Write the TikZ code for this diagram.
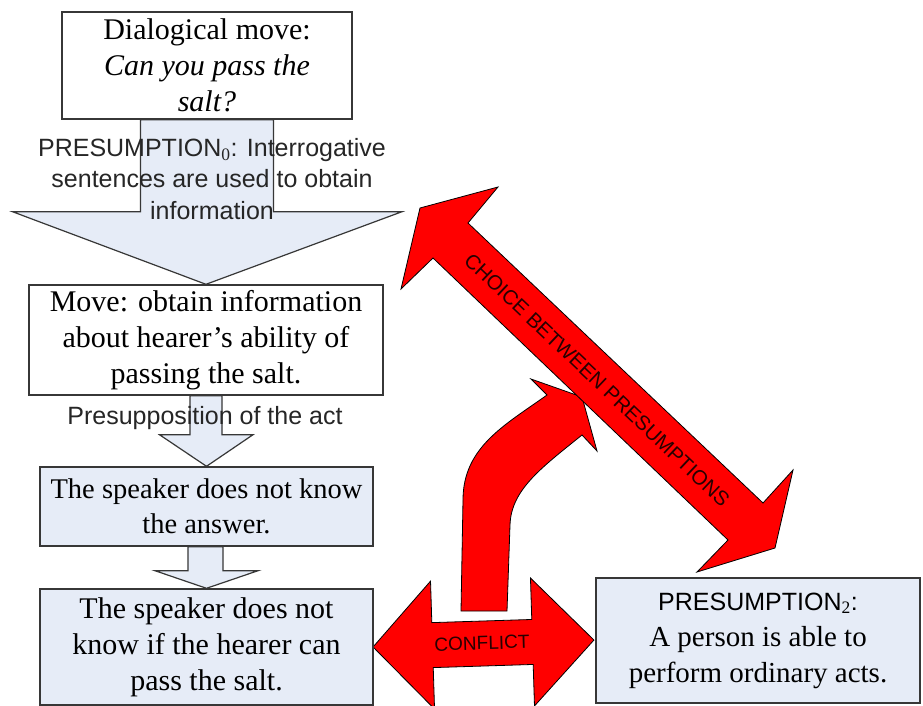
\documentclass[tikz,border=0pt]{standalone}
\usepackage{fontspec}
\setmainfont{Liberation Serif}
\setsansfont{Liberation Sans}
\usetikzlibrary{calc}
\definecolor{boxblue}{RGB}{230,236,247}
\definecolor{edgegray}{RGB}{55,55,55}
\definecolor{labelred}{RGB}{40,0,0}
\pgfdeclarelayer{background}
\pgfsetlayers{background,main}
\begin{document}
\begin{tikzpicture}[x=1pt,y=-1pt,
  box/.style={draw=edgegray, line width=1.4pt, align=center, inner sep=0pt,
    font=\fontsize{30}{36}\selectfont},
  bluebox/.style={box, fill=boxblue},
  whitebox/.style={box, fill=white},
  lightarrow/.style={draw=edgegray, fill=boxblue, line width=1.2pt, line join=miter},
  redarrow/.style={draw=black, fill=red, line width=0.8pt, line join=miter},
  sanslabel/.style={align=center, inner sep=0pt, font=\sffamily\fontsize{25}{31.5}\selectfont, text=black!85}
]
\clip (0,0) rectangle (923,706);

% boxes
\node[whitebox, minimum width=290pt, minimum height=107pt] (d1) at (207,65.5)
  {Dialogical move:\\\textit{Can you pass the}\\\textit{salt?}};
\node[whitebox, minimum width=354pt, minimum height=110pt] (m2) at (206,340)
  {Move: obtain information\\about hearer’s ability of\\passing the salt.};
\node[bluebox, minimum width=333pt, minimum height=79pt, font=\fontsize{28.5}{35}\selectfont] (s3) at (206.5,506.5)
  {The speaker does not know\\the answer.};
\node[bluebox, minimum width=333pt, minimum height=116pt] (s4) at (206.5,647)
  {The speaker does not\\know if the hearer can\\pass the salt.};
\node[bluebox, minimum width=324pt, minimum height=125pt, font=\fontsize{29}{36}\selectfont] (p5) at (758,640.5)
  {{\sffamily\fontsize{25}{36}\selectfont PRESUMPTION{\rmfamily\textsubscript{2}}:}\\A person is able to\\perform ordinary acts.};

% labels
\node[sanslabel] (pre0) at (212,179)
  {PRESUMPTION{\rmfamily\textsubscript{0}}: Interrogative\\sentences are used to obtain\\information};
\node[sanslabel] (pact) at (205,418) {Presupposition of the act};

\begin{pgfonlayer}{background}
\fill[white] (0,0) rectangle (923,706);
% light block arrows
\path[lightarrow] ($(d1.south)+(-66.5,0)$) -- ++(0,92) -- ++(-128,0) -- (m2.north)
  -- ($(d1.south)+(195,92)$) -- ++(-128.5,0) -- ($(d1.south)+(66.5,0)$) -- cycle;
\path[lightarrow] ($(m2.south)+(-16,0)$) -- ++(0,39) -- ++(-30.5,0) -- (s3.north)
  -- ($(m2.south)+(47,39)$) -- ++(-31,0) -- ($(m2.south)+(16,0)$) -- cycle;
\path[lightarrow] ($(s3.south)+(-18.5,0)$) -- ++(0,24) -- ++(-33,0) -- (s4.north)
  -- ($(s3.south)+(51.5,24)$) -- ++(-35,0) -- ($(s3.south)+(16.5,0)$) -- cycle;

% bent arrow
\path[redarrow] (461,611) -- (463,500) .. controls (463,447) and (505,425) .. (547,395)
  -- (531,379) -- (582,397) -- (597,451) -- (582,435)
  .. controls (541,468) and (511,490) .. (510,525) -- (507,611) -- cycle;

% choice arrow
\path[redarrow] (420,208) -- (498,187) -- (468,223) -- (763,503) -- (793,470)
  -- (775,548) -- (697,572) -- (728,540) -- (433,258) -- (401,289) -- cycle;

% conflict arrow
\begin{scope}[shift={(483.5,643.5)}, rotate=1.8]
\path[redarrow] (-110.5,0) -- (-51,-64) -- (-51,-22.5) -- (49,-22.5) -- (49,-64)
  -- (110.5,0) -- (49,64) -- (49,22.5) -- (-51,22.5) -- (-51,64) -- cycle;
\end{scope}
\end{pgfonlayer}

\node[rotate=1.8, inner sep=0pt, font=\sffamily\fontsize{19}{22}\selectfont, text=labelred] (conf) at (482,643) {CONFLICT};
\node[rotate=-43.5, inner sep=0pt, font=\sffamily\fontsize{20.5}{23}\selectfont, text=labelred] (choice) at (597,380) {CHOICE BETWEEN PRESUMPTIONS};
\end{tikzpicture}
\end{document}
